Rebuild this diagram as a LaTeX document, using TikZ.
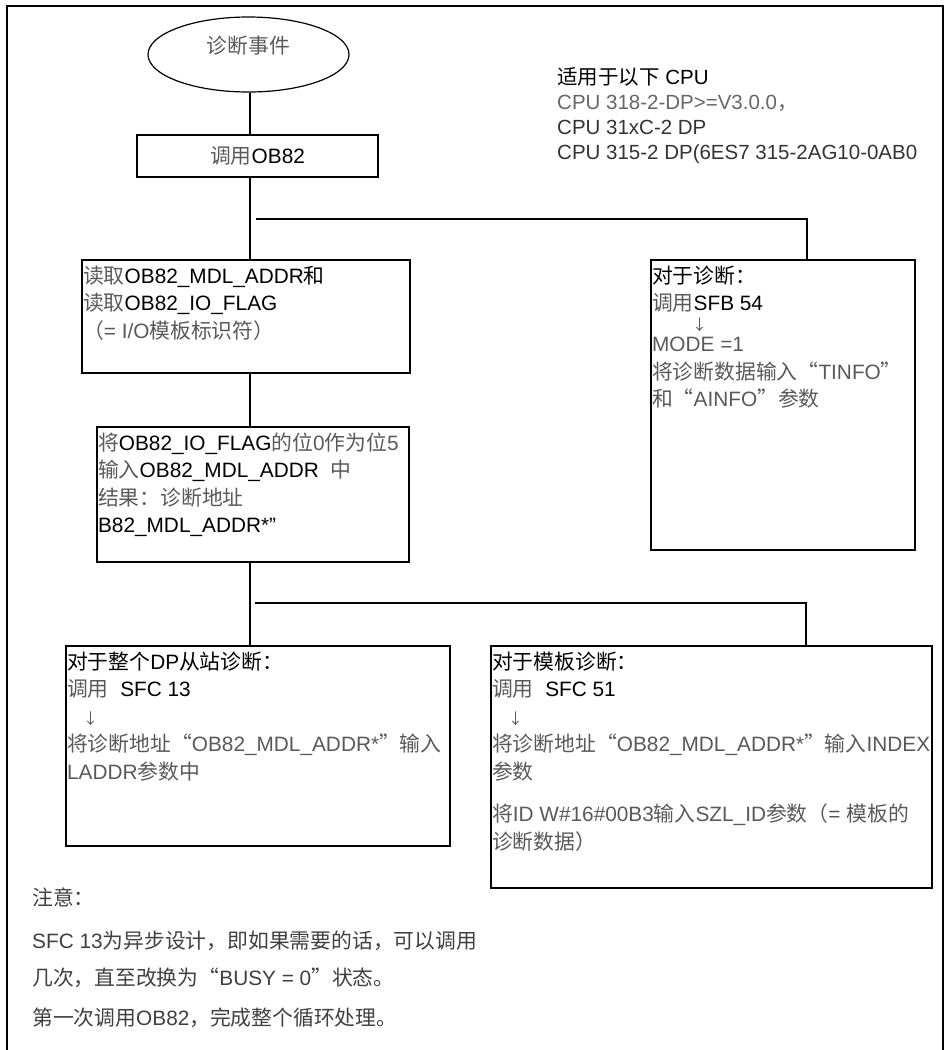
\documentclass[tikz,border=0pt]{standalone}
\usepackage{fontspec}
\setmainfont{Liberation Sans}
\newfontfamily\zh{Noto Sans CJK SC}
\usetikzlibrary{positioning,shapes.geometric}
\newcommand\flowfont{\fontsize{20.8pt}{27.5pt}\selectfont}
\newcommand\hi[1]{{\color{black}#1}}
\newcommand\downarr{{\fontsize{15pt}{15pt}\selectfont\zh ↓}}
\tikzset{
  flowbox/.style={draw,line width=1.2pt,inner sep=0pt},
  flowtext/.style={anchor=north west,align=left,inner xsep=1.5pt,inner ysep=6pt,
                   font=\flowfont,text=black!65},
  link/.style={line width=1.2pt},
}

\begin{document}
\begin{tikzpicture}[x=1pt,y=-1pt]
  \useasboundingbox (0,0) rectangle (948,1050);
  % outer frame, open at the bottom
  \draw[line width=1.3pt] (7,1050) -- (7,6) -- (943,6) -- (943,1050);

  % start event
  \node[ellipse,draw,line width=1.2pt,minimum width=201pt,minimum height=75pt,inner sep=0pt]
    (event) at (248.5,54.5) {};
  \node[font=\flowfont,text=black!65] (event-lbl) at ([yshift=8.5pt]event.center) {\zh 诊断事件};

  % main column
  \node[flowbox,minimum width=241pt,minimum height=42pt,font=\flowfont,text=black!65]
    (call) at (257.5,156) {{\zh 调用}\hi{OB82}};
  \node[flowbox,minimum width=328pt,minimum height=113pt] (read) at (246,316.5) {};
  \node[flowtext] (read-txt) at (read.north west)
    {{\zh 读取}\hi{OB82\_MDL\_ADDR{\zh 和}}\\
     {\zh 读取}\hi{OB82\_IO\_FLAG}\\
     {\zh （}= I/O{\zh 模板标识符）}};
  \node[flowbox,minimum width=312pt,minimum height=135pt] (shift) at (253,494.5) {};
  \node[flowtext] (shift-txt) at (shift.north west)
    {{\zh 将}\hi{OB82\_IO\_FLAG}{\zh 的位}0{\zh 作为位}5\\
     {\zh 输入}\hi{OB82\_MDL\_ADDR}\ \ {\zh 中}\\
     {\zh 结果：诊断地址}\\
     \hi{B82\_MDL\_ADDR*”}};

  % right branch
  \node[flowbox,minimum width=264pt,minimum height=290pt] (diag) at (783,405) {};
  \node[flowtext] (diag-txt) at (diag.north west)
    {\hi{\zh 对于诊断：}\\
     {\zh 调用}\hi{SFB 54}\\[-4pt]
     \hspace{40pt}\raisebox{4pt}{\downarr}\\[-10pt]
     MODE =1\\
     {\zh 将诊断数据输入“}TINFO{\zh ”}\\
     {\zh 和“}AINFO{\zh ”参数}};

  % lower branches
  \node[flowbox,minimum width=384pt,minimum height=200pt] (slave) at (258,746) {};
  \node[flowtext] (slave-txt) at (slave.north west)
    {\hi{{\zh 对于整个}DP{\zh 从站诊断：}}\\
     {\zh 调用}\ \ \hi{SFC 13}\\
     \hspace{16pt}\downarr\\
     {\zh 将诊断地址“}OB82\_MDL\_ADDR*{\zh ”输入}\\
     LADDR{\zh 参数中}};
  \node[flowbox,minimum width=441pt,minimum height=242pt] (module) at (711.5,767) {};
  \node[flowtext] (module-txt) at (module.north west)
    {\hi{\zh 对于模板诊断：}\\
     {\zh 调用}\ \ \hi{SFC 51}\\
     \hspace{16pt}\downarr\\
     {\zh 将诊断地址“}OB82\_MDL\_ADDR*{\zh ”输入}INDEX\\
     {\zh 参数}\\[15pt]
     {\zh 将}ID W\#16\#00B3{\zh 输入}SZL\_ID{\zh 参数（}= {\zh 模板的}\\
     {\zh 诊断数据）}};

  % connectors
  \coordinate (spine) at (250,0);
  \coordinate (fork1) at (256,219);
  \coordinate (fork2) at (255,603);
  \coordinate (tapR) at (807,0);
  \coordinate (tapM) at (806,0);
  \draw[link] (spine |- event.south) -- (spine |- call.north);
  \draw[link] (spine |- call.south) -- (spine |- read.north);
  \draw[link] (spine |- read.south) -- (spine |- shift.north);
  \draw[link] (spine |- shift.south) -- (spine |- slave.north);
  \draw[link] (fork1) -| (tapR |- diag.north);
  \draw[link] (fork2) -| (tapM |- module.north);

  % cpu list
  \node[flowtext,inner sep=0pt,font=\fontsize{20.5pt}{25pt}\selectfont,text=black!80]
    (cpu) at (557,67)
    {\hi{{\zh 适用于以下} CPU}\\
     {\color{black!60}CPU 318-2-DP>=V3.0.0{\zh ，}}\\
     CPU 31xC-2 DP\\
     CPU 315-2 DP(6ES7 315-2AG10-0AB0};

  % notes
  \node[flowtext,inner sep=0pt,text=black!75] (note) at (32,888)
    {{\zh 注意：}\\[15pt]
     SFC 13{\zh 为异步设计，即如果需要的话，可以调用}\\[10pt]
     {\zh 几次，直至改换为“}BUSY = 0{\zh ”状态。}\\[12pt]
     {\zh 第一次调用}OB82{\zh ，完成整个循环处理。}};
\end{tikzpicture}
\end{document}
